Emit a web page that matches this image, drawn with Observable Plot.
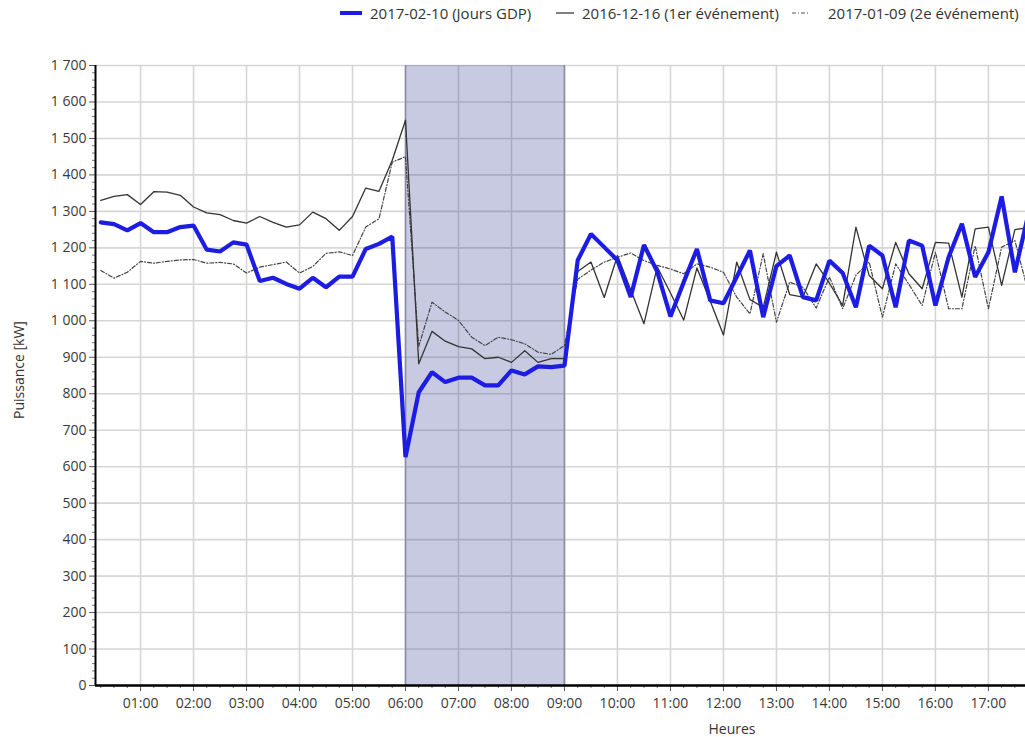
<!DOCTYPE html>
<html><head><meta charset="utf-8">
<script src="https://cdn.jsdelivr.net/npm/d3@7"></script>
<script src="https://cdn.jsdelivr.net/npm/@observablehq/plot@0.6"></script>
<style>
body{margin:0;background:#fff;font-family:"Open Sans",sans-serif;}
#wrap{position:relative;width:1025px;height:737px;overflow:hidden;background:#fff;}
#chart{position:absolute;left:0;top:0;}
.leg{position:absolute;top:4px;font-size:15px;color:#333;white-space:nowrap;line-height:18px;display:flex;align-items:center;}
.leg svg{margin-right:6px;}
.lab{position:absolute;font-size:14px;color:#333;white-space:nowrap;}
</style></head>
<body>
<div id="wrap">
  <div id="chart"></div>
</div>
<script>
// ---- data ----
const times = ["00:15","00:30","00:45","01:00","01:15","01:30","01:45","02:00","02:15","02:30","02:45","03:00",
"03:15","03:30","03:45","04:00","04:15","04:30","04:45","05:00","05:15","05:30","05:45","06:00",
"06:15","06:30","06:45","07:00","07:15","07:30","07:45","08:00","08:15","08:30","08:45","09:00",
"09:15","09:30","09:45","10:00","10:15","10:30","10:45","11:00","11:15","11:30","11:45","12:00",
"12:15","12:30","12:45","13:00","13:15","13:30","13:45","14:00","14:15","14:30","14:45","15:00",
"15:15","15:30","15:45","16:00","16:15","16:30","16:45","17:00","17:15","17:30","17:45"];
const seriesGDP = [1270,1265,1248,1268,1243,1243,1257,1261,1195,1190,1215,1209,
1109,1118,1101,1088,1118,1092,1121,1121,1197,1211,1231,626,
804,859,832,844,844,823,823,864,853,875,873,877,
1166,1238,1202,1166,1065,1208,1135,1012,1106,1197,1056,1048,
1120,1193,1010,1150,1179,1065,1056,1165,1131,1037,1206,1179,
1037,1220,1206,1042,1175,1266,1120,1188,1341,1133,1290];
const seriesEvt1 = [1330,1341,1346,1319,1354,1353,1344,1312,1296,1291,1275,1268,
1286,1270,1257,1263,1298,1280,1248,1286,1364,1355,1440,1550,
882,971,944,929,923,896,900,886,918,886,896,896,
1135,1161,1064,1179,1085,992,1148,1076,1002,1145,1054,961,
1161,1058,1037,1188,1072,1065,1156,1103,1042,1257,1124,1088,
1215,1129,1088,1215,1213,1065,1252,1257,1097,1250,1255];
const seriesEvt2 = [1138,1117,1133,1163,1158,1163,1167,1168,1158,1160,1156,1131,
1147,1154,1161,1131,1149,1185,1189,1179,1257,1280,1435,1450,
930,1051,1024,1001,955,932,955,948,937,914,908,932,
1114,1139,1161,1174,1186,1165,1152,1142,1129,1156,1147,1133,
1065,1019,1184,996,1106,1092,1035,1120,1033,1125,1161,1010,
1156,1100,1042,1188,1033,1033,1206,1033,1202,1220,1080];
const seriesNames = ["2017-02-10 (Jours GDP)","2016-12-16 (1er événement)","2017-01-09 (2e événement)"];
const hourTicks = ["01:00","02:00","03:00","04:00","05:00","06:00","07:00","08:00","09:00","10:00","11:00","12:00","13:00","14:00","15:00","16:00","17:00"];
const yTicks = [0,100,200,300,400,500,600,700,800,900,1000,1100,1200,1300,1400,1500,1600,1700];
const shadeStart = "06:00", shadeEnd = "09:00";
const xDomain = ["00:09","17:42"];
const xLabel = "Heures", yLabel = "Puissance [kW]";

// ---- build ----
const toH = s => { const [h,m] = s.split(":").map(Number); return h + m/60; };
const data = times.map((t,i)=>({t:toH(t), a:seriesGDP[i], b:seriesEvt1[i], c:seriesEvt2[i]}));
const fmtY = d3.formatLocale({thousands:" ", grouping:[3], decimal:",", currency:["","€"]}).format(",");
const minorY = d3.range(0, 1700, 20).filter(v => v % 100 !== 0);
const xd = xDomain.map(toH);

const plot = Plot.plot({
  width:1025, height:737, marginTop:65, marginBottom:52, marginLeft:95, marginRight:0,
  style:{fontFamily:"Open Sans", fontSize:"14px", background:"transparent", color:"#3a3a3a"},
  x:{domain:xd, axis:null},
  y:{domain:[0,1700], axis:null},
  marks:[
    Plot.gridY(yTicks, {stroke:"#d6d6d6", strokeOpacity:1, strokeWidth:1.6}),
    Plot.gridX(hourTicks.map(toH), {stroke:"#d6d6d6", strokeOpacity:1, strokeWidth:1.6}),
    Plot.rect([{s:shadeStart,e:shadeEnd}], {x1:d=>toH(d.s), x2:d=>toH(d.e), fill:"#232b87", fillOpacity:0.25}),
    Plot.ruleX([shadeStart, shadeEnd].map(toH), {stroke:"#8a8aa6", strokeWidth:1.5}),
    Plot.line(data, {x:"t", y:"c", stroke:"#444", strokeWidth:1.2, strokeDasharray:"4,2,1,2", clip:true}),
    Plot.line(data, {x:"t", y:"b", stroke:"#333", strokeWidth:1.3, clip:true}),
    Plot.line(data, {x:"t", y:"a", stroke:"#1c1ce2", strokeWidth:4.2, strokeLinejoin:"miter", clip:true}),
    Plot.axisY(yTicks, {tickSize:6, tickPadding:3, tickFormat:fmtY, label:null, stroke:"#555", fill:"#3a3a3a"}),
    Plot.axisY(minorY, {tickSize:3, tickFormat:()=>"", label:null, stroke:"#777"}),
    Plot.axisX(hourTicks.map(toH), {tickSize:6, tickPadding:7, tickFormat:d=>hourTicks[Math.round(d)-1], label:null, stroke:"#555", fill:"#3a3a3a"}),
    Plot.axisX(times.map(toH), {tickSize:3, tickFormat:()=>"", label:null, stroke:"#777"}),
    Plot.ruleY([0], {stroke:"#000", strokeWidth:2.5}),
    Plot.ruleX([xd[0]], {stroke:"#000", strokeWidth:2})
  ]
});
const wrap = document.getElementById("wrap");
document.getElementById("chart").appendChild(plot);

// legend
const legItems = [
  {left:340, sw:`<svg width="24" height="10"><line x1="0" y1="5" x2="22" y2="5" stroke="#1c1ce2" stroke-width="4"/></svg>`},
  {left:556, sw:`<svg width="20" height="10"><line x1="0" y1="5" x2="18" y2="5" stroke="#555" stroke-width="1.5"/></svg>`},
  {left:792, sw:`<svg width="30" height="10"><line x1="0" y1="5" x2="16" y2="5" stroke="#555" stroke-width="1.2" stroke-dasharray="4,2,1,2"/></svg>`}
];
legItems.forEach((it,i)=>{
  const d = document.createElement("div");
  d.className = "leg"; d.style.left = it.left + "px";
  d.innerHTML = it.sw + "<span>" + seriesNames[i] + "</span>";
  wrap.appendChild(d);
});
const xl = document.createElement("div");
xl.className = "lab"; xl.textContent = xLabel;
xl.style.left = "732px"; xl.style.top = "719px"; xl.style.transform = "translateX(-50%)";
wrap.appendChild(xl);
const yl = document.createElement("div");
yl.className = "lab"; yl.textContent = yLabel;
yl.style.left = "18px"; yl.style.top = "370px"; yl.style.transform = "translate(-50%,-50%) rotate(-90deg)";
wrap.appendChild(yl);
</script>
</body></html>
